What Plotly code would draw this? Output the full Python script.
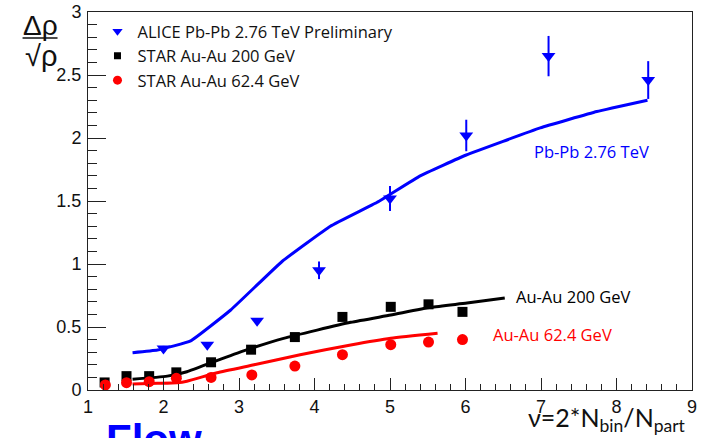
import plotly.graph_objects as go

# ---- data ----
alice_x = [2.00, 2.58, 3.24, 4.06, 5.00, 6.01, 7.10, 8.42]
alice_y = [0.33, 0.36, 0.55, 0.95, 1.52, 2.02, 2.65, 2.46]
alice_err = [0.02, 0.02, 0.02, 0.07, 0.10, 0.125, 0.16, 0.15]

star200_x = [1.22, 1.51, 1.81, 2.17, 2.63, 3.16, 3.74, 4.37, 5.01, 5.51, 5.96]
star200_y = [0.06, 0.11, 0.11, 0.14, 0.22, 0.32, 0.42, 0.58, 0.66, 0.68, 0.62]

star62_x = [1.23, 1.51, 1.81, 2.17, 2.63, 3.17, 3.74, 4.37, 5.01, 5.51, 5.96]
star62_y = [0.04, 0.058, 0.066, 0.093, 0.10, 0.12, 0.19, 0.28, 0.36, 0.38, 0.40]

pbpb_line_x = [1.59, 1.92, 2.36, 2.89, 3.57, 4.21, 4.83, 5.40, 6.01, 6.99, 7.74, 8.41]
pbpb_line_y = [0.296, 0.317, 0.39, 0.635, 1.02, 1.30, 1.49, 1.70, 1.865, 2.08, 2.21, 2.30]

au200_line_x = [1.59, 2.05, 2.31, 2.67, 3.06, 3.59, 4.48, 5.01, 5.54, 6.02, 6.52]
au200_line_y = [0.085, 0.11, 0.145, 0.225, 0.31, 0.41, 0.537, 0.595, 0.656, 0.69, 0.73]

au62_line_x = [1.59, 1.92, 2.18, 2.31, 2.71, 3.20, 3.81, 4.48, 5.01, 5.63]
au62_line_y = [0.048, 0.053, 0.058, 0.07, 0.137, 0.20, 0.28, 0.357, 0.41, 0.45]

legend_names = ["ALICE Pb-Pb 2.76 TeV Preliminary", "STAR Au-Au 200 GeV", "STAR Au-Au 62.4 GeV"]

BLUE = "#0000ff"
RED = "#ff0000"
BLACK = "#000000"
TXT_FONT = "Open Sans"
TXT_SIZE = 16.5

fig = go.Figure()

# model curves
fig.add_trace(go.Scatter(x=pbpb_line_x, y=pbpb_line_y, mode="lines", line=dict(color=BLUE, width=3, shape="spline", smoothing=0.3), showlegend=False))
fig.add_trace(go.Scatter(x=au200_line_x, y=au200_line_y, mode="lines", line=dict(color=BLACK, width=3, shape="spline", smoothing=0.5), showlegend=False))
fig.add_trace(go.Scatter(x=au62_line_x, y=au62_line_y, mode="lines", line=dict(color=RED, width=3, shape="spline", smoothing=0.5), showlegend=False))

# data points
fig.add_trace(go.Scatter(x=alice_x, y=alice_y, mode="markers",
                         marker=dict(symbol="triangle-down", size=12, color=BLUE),
                         error_y=dict(type="data", array=alice_err, color=BLUE, thickness=2, width=0),
                         showlegend=False))
fig.add_trace(go.Scatter(x=star200_x, y=star200_y, mode="markers",
                         marker=dict(symbol="square", size=10, color=BLACK), showlegend=False))
fig.add_trace(go.Scatter(x=star62_x, y=star62_y, mode="markers",
                         marker=dict(symbol="circle", size=11, color=RED), showlegend=False))

# legend entries
fig.add_trace(go.Scatter(x=[None], y=[None], mode="markers", name=legend_names[0],
                         marker=dict(symbol="triangle-down", size=9, color=BLUE)))
fig.add_trace(go.Scatter(x=[None], y=[None], mode="markers", name=legend_names[1],
                         marker=dict(symbol="square", size=7, color=BLACK)))
fig.add_trace(go.Scatter(x=[None], y=[None], mode="markers", name=legend_names[2],
                         marker=dict(symbol="circle", size=9, color=RED)))

axis_common = dict(showgrid=False, zeroline=False, showline=True, linecolor="#222", linewidth=1,
                   mirror=True, ticks="inside", tickcolor="#222", automargin=False,
                   tickfont=dict(family="Liberation Sans, Arial", size=18, color="#111"))

fig.update_xaxes(range=[1, 9], dtick=1, tick0=1, ticklen=12,
                 minor=dict(dtick=0.2, ticks="inside", ticklen=6, tickcolor="#222"),
                 **axis_common)
fig.update_yaxes(range=[0, 3], dtick=0.5, tick0=0, ticklen=18, ticklabelstandoff=2,
                 minor=dict(dtick=0.1, ticks="inside", ticklen=9, tickcolor="#222"),
                 **axis_common)

def px2paper_x(px):
    return (px - 87.5) / 604.5

def px2paper_y(py):
    return (390 - py) / 378

annotations = [
    dict(x=6.88, y=1.89, xref="x", yref="y", text="Pb-Pb 2.76 TeV", showarrow=False,
         xanchor="left", yanchor="middle", font=dict(family=TXT_FONT, size=TXT_SIZE, color=BLUE)),
    dict(x=6.64, y=0.746, xref="x", yref="y", text="Au-Au 200 GeV", showarrow=False,
         xanchor="left", yanchor="middle", font=dict(family=TXT_FONT, size=TXT_SIZE, color=BLACK)),
    dict(x=6.34, y=0.437, xref="x", yref="y", text="Au-Au 62.4 GeV", showarrow=False,
         xanchor="left", yanchor="middle", font=dict(family=TXT_FONT, size=TXT_SIZE, color=RED)),
    # axis titles
    dict(x=px2paper_x(688), y=px2paper_y(419), xref="paper", yref="paper",
         text="ν=2*N<sub>bin</sub>/N<sub>part</sub>", showarrow=False, xanchor="right", yanchor="middle",
         font=dict(family="Lato", size=25, color="#111")),
    dict(x=px2paper_x(39.5), y=px2paper_y(25), xref="paper", yref="paper", text="Δρ", showarrow=False,
         xanchor="center", yanchor="middle", font=dict(family="Liberation Sans, Arial", size=28, color="#111")),
    dict(x=px2paper_x(40), y=px2paper_y(56), xref="paper", yref="paper", text="√ρ", showarrow=False,
         xanchor="center", yanchor="middle", font=dict(family="Liberation Sans, Arial", size=29, color="#111")),
    dict(x=px2paper_x(104), y=px2paper_y(414), xref="paper", yref="paper", text="<b>Flow</b>", showarrow=False,
         xanchor="left", yanchor="top", font=dict(family="Liberation Sans, Arial", size=42, color=BLUE)),
]

fig.update_layout(
    width=702, height=438,
    margin=dict(l=87.5, r=10, t=12, b=48),
    paper_bgcolor="white", plot_bgcolor="white",
    annotations=annotations,
    shapes=[dict(type="line", xref="paper", yref="paper",
                 x0=px2paper_x(22), x1=px2paper_x(57), y0=px2paper_y(38), y1=px2paper_y(38),
                 line=dict(color="#111", width=1.5))],
    legend=dict(x=px2paper_x(97), y=px2paper_y(14), xanchor="left", yanchor="top",
                bgcolor="rgba(0,0,0,0)", font=dict(family=TXT_FONT, size=TXT_SIZE, color="#111"),
                itemwidth=30, tracegroupgap=0),
)

fig.write_html("out.html")
